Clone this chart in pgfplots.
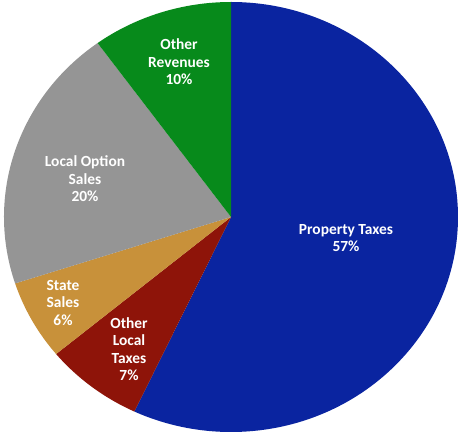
\documentclass[border=0pt]{standalone}
\usepackage{fontspec}
\setmainfont{Carlito}
\usepackage{pgfplots}
\usepackage{pgfplotstable}
\pgfplotsset{compat=1.18}
\definecolor{cProp}{HTML}{0A24A0}
\definecolor{cOLT}{HTML}{8E1409}
\definecolor{cSS}{HTML}{C8913A}
\definecolor{cLOS}{HTML}{959595}
\definecolor{cOR}{HTML}{078A1B}
\pgfplotstableread{
share color
57 cProp
7 cOLT
6 cSS
20 cLOS
10 cOR
}\piedata
\begin{document}
\begin{tikzpicture}
\begin{axis}[hide axis, ticks=none, scale only axis, width=458bp, height=434bp,
  xmin=0, xmax=458, ymin=0, ymax=434, clip=false]
\xdef\cum{90}
\foreach \i in {0,...,4}{
  \pgfplotstablegetelem{\i}{share}\of\piedata \let\slshare\pgfplotsretval
  \pgfplotstablegetelem{\i}{color}\of\piedata \let\slcol\pgfplotsretval
  \pgfmathsetmacro\endang{\cum-3.6*\slshare}
  \edef\temp{\noexpand\fill[\slcol] (axis cs:231,217) -- ++(\cum:227bp and 215bp)
     arc[start angle=\cum, end angle=\endang, x radius=227bp, y radius=215bp] -- cycle;}
  \temp
  \xdef\cum{\endang}
}
\tikzset{lbl/.style={text=white, font=\bfseries\fontsize{15.5}{17.5}\selectfont, align=center, inner sep=0pt}}
\node[lbl] at (axis cs:346,196) {Property Taxes\\57\%};
\node[lbl] at (axis cs:85,255) {Local Option\\Sales\\20\%};
\node[lbl] at (axis cs:179,372) {Other\\Revenues\\10\%};
\node[lbl] at (axis cs:63,131) {State\\Sales\\6\%};
\node[lbl] at (axis cs:129,85) {Other\\Local\\Taxes\\7\%};
\end{axis}
\pgfresetboundingbox
\path[use as bounding box] (current axis.south west) rectangle (current axis.north east);
\end{tikzpicture}
\end{document}
